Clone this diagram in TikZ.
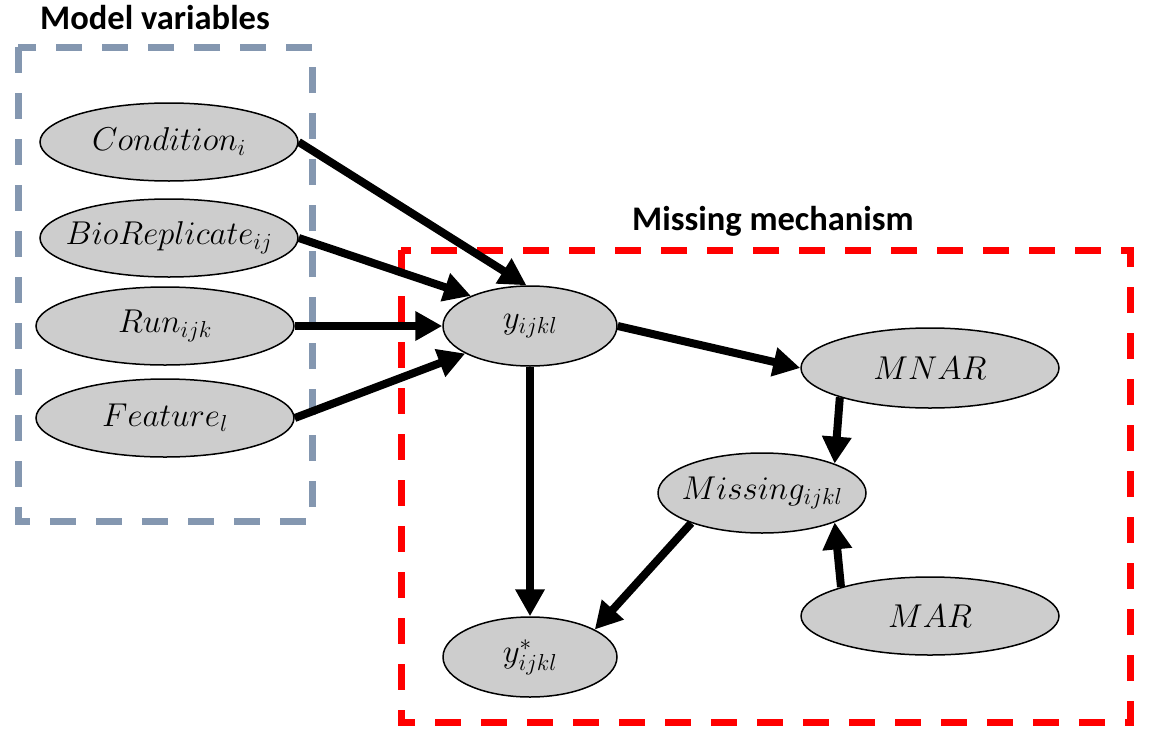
\RequirePackage{fix-cm}
\documentclass[tikz,border=0pt]{standalone}
\usepackage{fontspec}
\setsansfont{Carlito}
\usetikzlibrary{shapes.geometric,arrows.meta}
\definecolor{boxblue}{RGB}{132,151,176}
\definecolor{nodegray}{RGB}{205,205,205}
\newcommand{\vlabel}[1]{\makebox[0pt]{$#1$}}
\tikzset{
  var/.style={ellipse, draw=black, line width=1.5pt, fill=nodegray, inner sep=0pt,
    minimum width=258pt, minimum height=78pt, font=\fontsize{33}{38}\selectfont},
  arr/.style={line width=8pt, -{Triangle[length=27pt,width=28pt]}},
  groupbox/.style={line width=7pt, dash pattern=on 26pt off 20pt},
  title/.style={font=\sffamily\bfseries\fontsize{34.5}{40}\selectfont, anchor=base west, inner sep=0pt}
}
\begin{document}
\begin{tikzpicture}[x=1pt,y=-1pt]
\useasboundingbox (0,0) rectangle (1153,744);
% group boxes
\draw[groupbox, draw=boxblue] (18,47) rectangle (312,521);
\draw[groupbox, draw=red] (401,250) rectangle (1130,722);
\node[title] (t1) at (40,29) {Model variables};
\node[title] (t2) at (632,230) {Missing mechanism};
% nodes
\node[var] (cond) at (169,142) {\vlabel{Condition_i}};
\node[var] (bio) at (169,238) {\vlabel{BioReplicate_{ij}}};
\node[var] (run) at (165,326) {\vlabel{Run_{ijk}}};
\node[var] (feat) at (165,418) {\vlabel{Feature_l}};
\node[var, minimum width=174pt, minimum height=80pt] (y) at (530,326) {\vlabel{y_{ijkl}}};
\node[var, minimum width=174pt, minimum height=80pt] (ys) at (530,657) {\vlabel{y^*_{ijkl}}};
\node[var, minimum height=80pt] (mnar) at (930,368) {\vlabel{MNAR}};
\node[var, minimum width=208pt, minimum height=80pt] (miss) at (762,493) {\vlabel{Missing_{ijkl}}};
\node[var] (mar) at (930,616) {\vlabel{MAR}};
% connectors
\draw[arr] (cond.east) -- (y.95);
\draw[arr] (bio.east) -- (y.153);
\draw[arr] (run.east) -- (y.west);
\draw[arr] (feat.east) -- (y.203);
\draw[arr] (y.east) -- (mnar.west);
\draw[arr] (y.south) -- (ys.north);
\draw[arr] (miss.203) -- (ys.23);
\draw[arr] (mnar.198) -- (miss.22);
\draw[arr] (mar.162) -- (miss.338);
\end{tikzpicture}
\end{document}
